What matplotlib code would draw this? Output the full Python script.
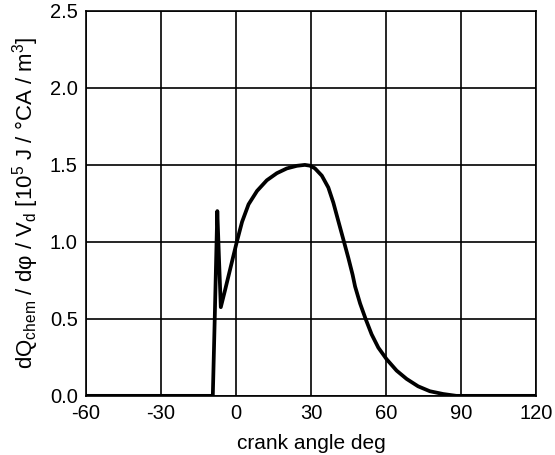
import numpy as np
import matplotlib
matplotlib.use('Agg')
import matplotlib.pyplot as plt

plt.rcParams['font.family'] = ['Liberation Sans', 'DejaVu Sans']
plt.rcParams['mathtext.fontset'] = 'custom'
plt.rcParams['mathtext.rm'] = 'Liberation Sans'
plt.rcParams['mathtext.it'] = 'Liberation Sans'

# heat release rate
crank_angle = [-60, -9.3, -8.5, -7.5, -6.8, -6.1, -4.5, -3.0, -1.5, 0.3, 2.4, 5.0, 8.4,
               12.3, 16.3, 20.3, 24.3, 27.5, 29.5, 31.5, 34.3, 36.9, 38.9, 40.9, 42.9,
               44.9, 46.6, 47.6, 49.6, 51.8, 54.2, 56.9, 60.2, 64.2, 68.2, 72.8,
               77.5, 82.8, 88.1, 120]
heat_rate = [0.0, 0.0, 0.52, 1.20, 0.88, 0.576, 0.68, 0.78, 0.88, 1.0, 1.13, 1.244, 1.331,
             1.40, 1.446, 1.477, 1.494, 1.50, 1.495, 1.478, 1.43, 1.353, 1.255, 1.135, 1.016,
             0.896, 0.787, 0.71, 0.60, 0.50, 0.40, 0.313, 0.238, 0.164, 0.110, 0.062,
             0.030, 0.012, 0.0, 0.0]

x_ticks = [-60, -30, 0, 30, 60, 90, 120]
y_ticks = [0.0, 0.5, 1.0, 1.5, 2.0, 2.5]

fig = plt.figure(figsize=(5.55, 4.55), dpi=100)
ax = fig.add_axes([0.155, 0.13, 0.811, 0.846])

ax.plot(crank_angle, heat_rate, color='black', lw=2.7,
        solid_joinstyle='round', solid_capstyle='butt')

ax.set_xlim(-60, 120)
ax.set_ylim(0, 2.5)
ax.set_xticks(x_ticks)
ax.set_yticks(y_ticks)
ax.set_xticklabels([str(t) for t in x_ticks])
ax.set_yticklabels([f'{t:.1f}' for t in y_ticks])
ax.tick_params(length=0, labelsize=14.5)
ax.tick_params(axis='x', pad=6)
ax.tick_params(axis='y', pad=6)
ax.grid(True, color='black', lw=1.2)
for s in ax.spines.values():
    s.set_linewidth(1.2)

ax.set_xlabel('crank angle deg', fontsize=15, labelpad=8)
ax.set_ylabel(r'dQ$_{\mathrm{chem}}$ / dφ / V$_{\mathrm{d}}$ [10$^{5}$ J / °CA / m$^{3}$]',
              fontsize=16, labelpad=6)

fig.savefig('out.png', dpi=100)
